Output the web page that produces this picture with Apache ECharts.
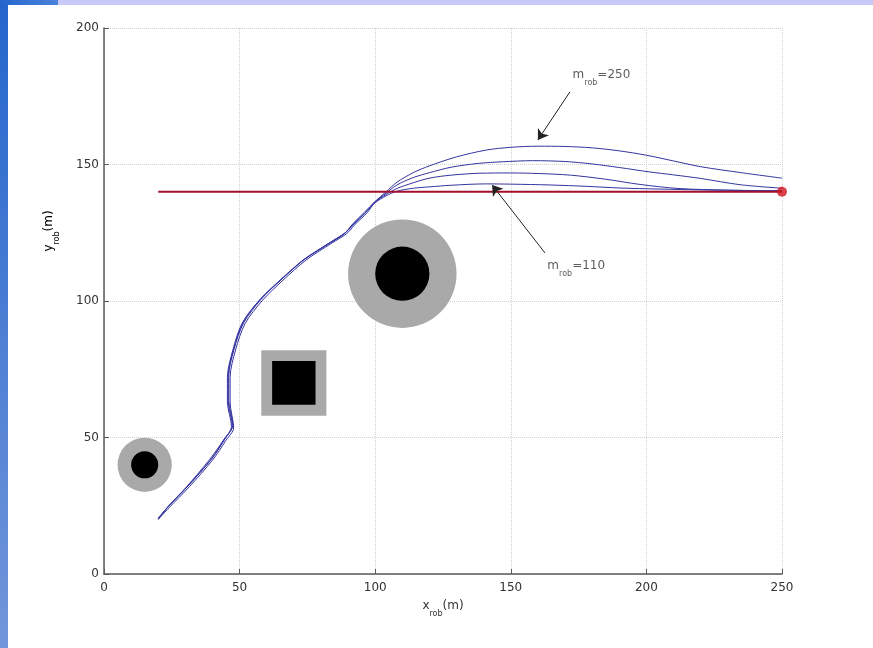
<!DOCTYPE html>
<html>
<head>
<meta charset="utf-8">
<script src="https://cdn.jsdelivr.net/npm/echarts@6/dist/echarts.min.js"></script>
<style>
  html, body { margin: 0; padding: 0; background: #ffffff; }
  #chart { width: 873px; height: 648px; }
</style>
</head>
<body>
<div id="chart"></div>
<script>
// Axis ticks
const xTicks = [0, 50, 100, 150, 200, 250];
const yTicks = [0, 50, 100, 150, 200];

// Reference path (target heading line) and its end point
const referencePath = [[20, 140], [250, 140]];
const targetPoint = [[250, 140]];

// Robot trajectories for different robot masses
const trajMrob250 = [
  [20, 20], [23, 24], [30.5, 32], [39, 42], [44, 49], [47, 54], [45.5, 63], [45.5, 72],
  [47.5, 82], [51, 92], [57.5, 100.5], [65, 107.5], [73.5, 115], [83, 121], [88.5, 124.5],
  [91.5, 128], [96, 132.5], [100, 136.5], [104, 140], [108, 143.5], [114, 147], [120, 149.5],
  [130, 152.8], [141, 155.3], [150, 156.3], [160, 156.7], [170, 156.6], [180, 156.1],
  [190, 155], [200, 153.4], [210, 151.3], [220, 149.2], [235, 147], [250, 145]
];
const trajMrob200 = [
  [20, 20.5], [23.5, 24.5], [31, 32.3], [39.5, 42], [44.5, 49.5], [47.5, 54.5], [46, 63.5],
  [46, 72.5], [48, 82.5], [51.5, 92], [58, 100.7], [65.5, 108], [74, 115.3], [83.5, 121.5],
  [89, 125], [92, 128.3], [96.5, 132.5], [100, 136.3], [104, 139.5], [108, 142.5],
  [114, 145.2], [120, 147], [128, 149], [138, 150.4], [147, 151], [158, 151.4],
  [170, 151.1], [180, 150.2], [190, 148.9], [201, 147.3], [210, 146.2], [220, 144.9],
  [234.5, 142.6], [250, 141.3]
];
const trajMrob150 = [
  [20, 20], [24, 24.3], [31.5, 32], [40, 41.7], [45, 49], [47.8, 53.5], [46.5, 63],
  [46.5, 72], [48.5, 82], [52, 91.7], [58.5, 100.3], [66, 107.6], [74.5, 115], [84, 121.2],
  [89.5, 124.7], [92.5, 128], [97, 132.3], [100, 136.2], [104, 139], [108, 141.2],
  [114, 143.3], [120, 145], [128, 146.1], [138.6, 146.8], [150, 146.9], [160, 146.7],
  [172, 146.1], [185, 144.6], [197.6, 142.7], [212, 141.2], [230, 140.6], [250, 140.4]
];
const trajMrob110 = [
  [20, 20.3], [23.8, 24.8], [31.2, 32.5], [39.8, 42.3], [44.8, 49.8], [47.3, 54.2],
  [45.8, 63.3], [45.8, 72.3], [47.8, 82.3], [51.3, 92.2], [57.8, 100.8], [65.3, 108],
  [73.8, 115.3], [83.3, 121.4], [89.2, 125.2], [92.2, 128.2], [96.5, 132.4], [100, 136],
  [104, 138.5], [108, 140.2], [114, 141.3], [120, 141.8], [128, 142.4], [141, 142.9],
  [150, 142.8], [164.5, 142.5], [178, 142], [190, 141.4], [205, 141], [220, 140.7],
  [250, 140.3]
];

// Obstacles: centre x, centre y, outer (safety) size, inner (body) size
const circleObstacles = [[15, 40, 10, 5], [110, 110, 20, 10]];
const squareObstacles = [[70, 70, 12, 8]];

// Annotations: label anchor, arrow tail, arrow head, label value
const noteMrob250 = { at: [172.6, 181.7], from: [171.8, 176.6], to: [160, 159], value: '=250' };
const noteMrob110 = { at: [163.3, 111.7], from: [162.6, 117.6], to: [143.1, 142.5], value: '=110' };

const FONT = 'DejaVu Sans';
const TEXT_COLOR = '#333333';
const TRAJ_COLOR = '#3434a0';

const subRich = {
  m: { fontFamily: FONT, fontSize: 12, color: TEXT_COLOR, verticalAlign: 'top', lineHeight: 18 },
  s: { fontFamily: FONT, fontSize: 8, color: TEXT_COLOR, verticalAlign: 'bottom', lineHeight: 18 },
  e: { fontFamily: FONT, fontSize: 12, color: TEXT_COLOR, verticalAlign: 'top', lineHeight: 18 }
};

function trajSeries(name, data) {
  return {
    name: name, type: 'line', data: data, smooth: 0.3, showSymbol: false,
    lineStyle: { color: TRAJ_COLOR, width: 1 }, silent: true, animation: false, z: 3
  };
}

function noteSeries(note) {
  return {
    type: 'scatter', data: [note.at], symbolSize: 1, itemStyle: { color: 'rgba(0,0,0,0)' },
    silent: true, animation: false, clip: false, z: 6,
    label: {
      show: true, position: 'right', distance: 0,
      formatter: '{m|m}{s|rob}{e|' + note.value + '}', rich: subRich
    },
    markLine: {
      silent: true, animation: false, symbol: ['none', 'arrow'], symbolSize: 10,
      label: { show: false },
      lineStyle: { color: '#222', width: 1, type: 'solid' },
      data: [[{ coord: note.from }, { coord: note.to }]]
    }
  };
}

const chart = echarts.init(document.getElementById('chart'), null, { renderer: 'canvas' });

chart.setOption({
  backgroundColor: '#ffffff',
  animation: false,
  grid: { left: 104, top: 28, right: 91, bottom: 74 },
  xAxis: {
    type: 'value', min: xTicks[0], max: xTicks[xTicks.length - 1], interval: 50,
    name: '{m|x}{s|rob}{e|(m)}', nameLocation: 'middle', nameGap: 26,
    nameTextStyle: { rich: subRich },
    axisLine: { show: true, onZero: false, lineStyle: { color: '#5a5a5a', width: 1.5 } },
    axisTick: { show: true, inside: true, length: 5, lineStyle: { color: '#5a5a5a' } },
    axisLabel: { fontFamily: FONT, fontSize: 12, color: TEXT_COLOR, margin: 8 },
    splitLine: { show: true, lineStyle: { color: '#d0d0d0', type: 'dotted', width: 1 } }
  },
  yAxis: {
    type: 'value', min: yTicks[0], max: yTicks[yTicks.length - 1], interval: 50,
    axisLine: { show: true, onZero: false, lineStyle: { color: '#5a5a5a', width: 1.5 } },
    axisTick: { show: true, inside: true, length: 5, lineStyle: { color: '#5a5a5a' } },
    axisLabel: { fontFamily: FONT, fontSize: 12, color: TEXT_COLOR, margin: 5 },
    splitLine: { show: true, lineStyle: { color: '#d0d0d0', type: 'dotted', width: 1 } }
  },
  graphic: [
    // slide frame: left strip and top band
    {
      type: 'rect', left: 0, top: 0, shape: { width: 8, height: 648 }, silent: true,
      style: {
        fill: new echarts.graphic.LinearGradient(0, 0, 0, 1, [
          { offset: 0, color: '#2466cc' }, { offset: 1, color: '#7296da' }
        ])
      }
    },
    {
      type: 'rect', left: 0, top: 0, shape: { width: 58, height: 5 }, silent: true,
      style: {
        fill: new echarts.graphic.LinearGradient(0, 0, 1, 0, [
          { offset: 0, color: '#2466cc' }, { offset: 1, color: '#4a82dc' }
        ])
      }
    },
    {
      type: 'rect', left: 58, top: 0, shape: { width: 815, height: 5 }, silent: true,
      style: { fill: '#c9c9f7' }
    },
    // y axis title
    {
      type: 'text', x: 52, y: 231, rotation: Math.PI / 2, silent: true,
      style: {
        text: '{m|y}{s|rob}{e|(m)}', rich: subRich, align: 'center', verticalAlign: 'middle'
      }
    }
  ],
  series: [
    {
      type: 'custom', silent: true, animation: false, z: 1,
      data: circleObstacles,
      renderItem: function (params, api) {
        const c = api.coord([api.value(0), api.value(1)]);
        const rOut = api.size([api.value(2), 0])[0];
        const rIn = api.size([api.value(3), 0])[0];
        return {
          type: 'group',
          children: [
            { type: 'circle', shape: { cx: c[0], cy: c[1], r: rOut }, style: { fill: '#a9a9a9' } },
            { type: 'circle', shape: { cx: c[0], cy: c[1], r: rIn }, style: { fill: '#000000' } }
          ]
        };
      }
    },
    {
      type: 'custom', silent: true, animation: false, z: 1,
      data: squareObstacles,
      renderItem: function (params, api) {
        const x = api.value(0), y = api.value(1), ho = api.value(2), hi = api.value(3);
        const pOut = api.coord([x - ho, y + ho]);
        const sOut = api.size([2 * ho, 2 * ho]);
        const pIn = api.coord([x - hi, y + hi]);
        const sIn = api.size([2 * hi, 2 * hi]);
        return {
          type: 'group',
          children: [
            { type: 'rect', shape: { x: pOut[0], y: pOut[1], width: sOut[0], height: sOut[1] }, style: { fill: '#a9a9a9' } },
            { type: 'rect', shape: { x: pIn[0], y: pIn[1], width: sIn[0], height: sIn[1] }, style: { fill: '#000000' } }
          ]
        };
      }
    },
    trajSeries('m_rob=250', trajMrob250),
    trajSeries('m_rob=200', trajMrob200),
    trajSeries('m_rob=150', trajMrob150),
    trajSeries('m_rob=110', trajMrob110),
    {
      type: 'line', data: referencePath, showSymbol: false, silent: true, animation: false, z: 4,
      lineStyle: { color: '#a3102c', width: 2 }
    },
    {
      type: 'scatter', data: targetPoint, symbolSize: 10, clip: false, silent: true,
      animation: false, z: 5, itemStyle: { color: '#d0141e' }
    },
    noteSeries(noteMrob250),
    noteSeries(noteMrob110)
  ]
});
</script>
</body>
</html>
